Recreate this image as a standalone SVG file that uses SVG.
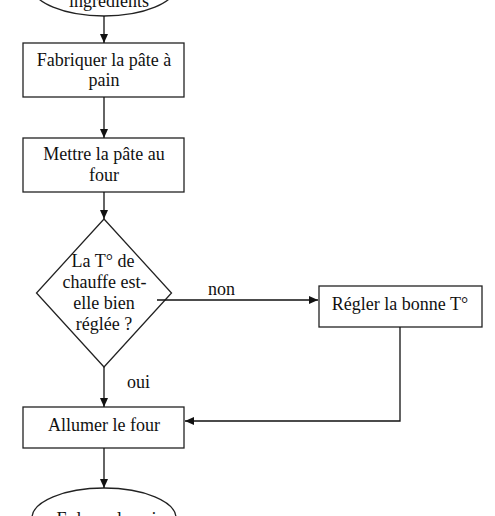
<svg xmlns="http://www.w3.org/2000/svg" width="495" height="516" viewBox="0 0 495 516">
<style>
.shape{fill:#fff;stroke:#222;stroke-width:1.3}
.edge{fill:none;stroke:#111;stroke-width:1.3}
text{font-family:"Liberation Serif","Times New Roman",serif;font-size:18px;fill:#111;text-anchor:middle}
</style>
<defs>
<marker id="arr" markerWidth="10" markerHeight="10" refX="9" refY="5" orient="auto" markerUnits="userSpaceOnUse">
<path d="M0,1 L9,5 L0,9 Z" fill="#111"/>
</marker>
</defs>
<rect width="495" height="516" fill="#fff"/>
<g id="start">
<ellipse class="shape" cx="104" cy="-14" rx="72" ry="30"/>
<text x="109" y="7">ingrédients</text>
</g>
<g id="fabriquer">
<rect class="shape" x="23" y="43" width="161" height="54"/>
<text x="104" y="66">Fabriquer la pâte à</text>
<text x="104" y="86">pain</text>
</g>
<g id="mettre">
<rect class="shape" x="23" y="138" width="161" height="54"/>
<text x="104" y="160">Mettre la pâte au</text>
<text x="104" y="181">four</text>
</g>
<g id="decision">
<polygon class="shape" points="104,219 171.5,293 104,367 36.5,293"/>
<text x="103" y="267">La T° de</text>
<text x="104.5" y="288">chauffe est-</text>
<text x="104" y="309">elle bien</text>
<text x="104" y="330">réglée ?</text>
</g>
<g id="regler">
<rect class="shape" x="319" y="286" width="163" height="41"/>
<text x="400" y="310">Régler la bonne T°</text>
</g>
<g id="allumer">
<rect class="shape" x="23" y="407" width="161" height="41"/>
<text x="104" y="431">Allumer le four</text>
</g>
<g id="end">
<ellipse class="shape" cx="104" cy="518" rx="72" ry="30"/>
<text x="111" y="525">Enlever le pain</text>
</g>
<g id="connectors">
<line class="edge" x1="104" y1="16" x2="104" y2="43" marker-end="url(#arr)"/>
<line class="edge" x1="104" y1="97" x2="104" y2="138" marker-end="url(#arr)"/>
<line class="edge" x1="104" y1="192" x2="104" y2="219" marker-end="url(#arr)"/>
<line class="edge" x1="157" y1="300" x2="318" y2="300" marker-end="url(#arr)"/>
<polyline class="edge" points="400,327 400,421 185,421" marker-end="url(#arr)"/>
<line class="edge" x1="104" y1="367" x2="104" y2="407" marker-end="url(#arr)"/>
<line class="edge" x1="104" y1="448" x2="104" y2="488" marker-end="url(#arr)"/>
<text x="221.5" y="295">non</text>
<text x="138.5" y="388">oui</text>
</g>
</svg>
